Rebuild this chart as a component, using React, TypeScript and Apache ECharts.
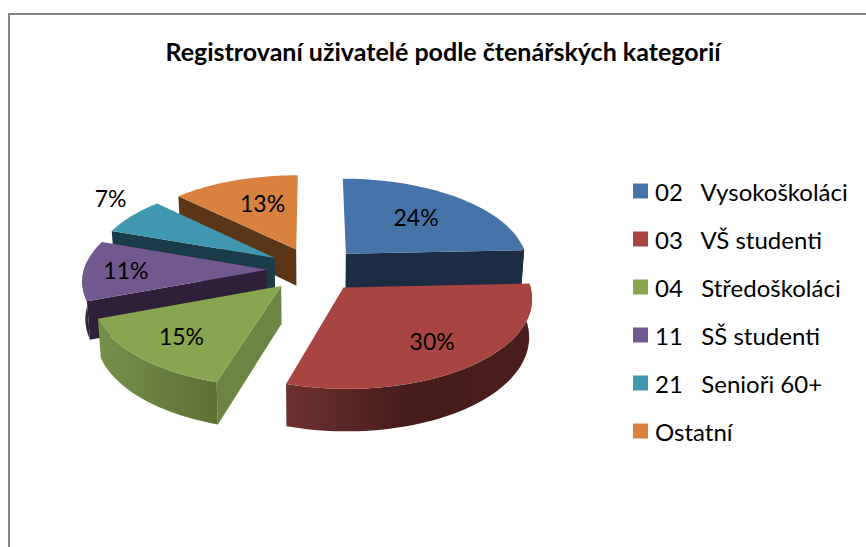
import React, { useEffect, useRef } from "react";
import * as echarts from "echarts";

const TITLE = "Registrovaní uživatelé podle čtenářských kategorií";
const CATEGORIES = ["02   Vysokoškoláci", "03   VŠ studenti", "04   Středoškoláci", "11   SŠ studenti", "21   Senioři 60+", "Ostatní"];
const SHARES = [24.3, 30.4, 14.6, 11.1, 6.9, 12.7];

const FONT = "Lato";
const TOP_COLORS = ["#4674a8", "#a84543", "#88a54f", "#71588f", "#4197af", "#d98240"];
const RADIAL_COLORS = ["#1b2c43", "#4a1d1b", "#6b8543", "#2e2038", "#1a3c48", "#5b3517"];
const RIM_STOPS = [
  ["#1b2c43", "#1b2c43"],
  ["#6e3130", "#451c1a", "#4a1e1c"],
  ["#76904a", "#5d7034"],
  ["#3a2a4a", "#2e2038"],
  ["#1a3c48", "#1a3c48"],
  ["#5b3517", "#5b3517"],
];
const DRAW_ORDER = [0, 5, 4, 3, 2, 1];
// label placement: fraction of the radius and angular shift, per slice
const LABEL_FRACTION = [0.63, 0.71, 0.72, 0.77, 1.27, 0.64];
const LABEL_SHIFT = [-2, 0, 0, 0, 6, 4];

const CX = 314, CY = 269.5, EXPLODE = 47, RADIUS = 183, TILT = 0.472, DIST = 1700, DEPTH = 37, SHRINK = 0.00036;
const rad = (d: number) => (d * Math.PI) / 180;

const total = SHARES.reduce((a, b) => a + b, 0);
const starts: number[] = [];
SHARES.reduce((acc, v, i) => {
  starts[i] = acc;
  return acc + (v / total) * 360;
}, 0);

const project = (X: number, Y: number, drop: number) => {
  const s = DIST / (DIST + Y);
  return [CX + X * s * (1 - drop * SHRINK), CY - Y * TILT * s + drop * s];
};

const makeRender = (i: number) => (_params: any, api: any) => {
  const share = api.value(0) as number;
  const a0 = starts[i];
  const a1 = a0 + (share / total) * 360;
  const mid = rad((a0 + a1) / 2);
  const ex = EXPLODE * Math.sin(mid);
  const ey = EXPLODE * Math.cos(mid);
  const rim = (deg: number, drop: number, r = RADIUS) =>
    project(ex + r * Math.sin(rad(deg)), ey + r * Math.cos(rad(deg)), drop);
  const arc = (from: number, to: number, drop: number) => {
    const pts: number[][] = [];
    const n = Math.max(2, Math.ceil((to - from) / 2));
    for (let k = 0; k <= n; k++) pts.push(rim(from + ((to - from) * k) / n, drop));
    return pts;
  };
  const children: any[] = [];
  const radial = (deg: number) => ({
    type: "polygon",
    shape: { points: [project(ex, ey, 0), rim(deg, 0), rim(deg, DEPTH), project(ex, ey, DEPTH)] },
    style: { fill: RADIAL_COLORS[i] },
  });
  if (Math.sin(rad(a0)) < -0.001) children.push(radial(a0));
  if (Math.sin(rad(a1)) > 0.001) children.push(radial(a1));
  const from = Math.max(a0, 84);
  const to = Math.min(a1, 276);
  if (to > from) {
    const stops = RIM_STOPS[i];
    children.push({
      type: "polygon",
      shape: { points: [...arc(from, to, 0), ...arc(from, to, DEPTH).reverse()] },
      style: {
        fill: new echarts.graphic.LinearGradient(
          0, 0, 1, 0,
          stops.map((color, k) => ({ offset: k / (stops.length - 1), color }))
        ),
      },
    });
  }
  children.push({
    type: "polygon",
    shape: { points: [project(ex, ey, 0), ...arc(a0, a1, 0)] },
    style: { fill: TOP_COLORS[i] },
  });
  const la = mid + rad(LABEL_SHIFT[i]);
  const lr = RADIUS * LABEL_FRACTION[i];
  const lp = project(ex + lr * Math.sin(la), ey + lr * Math.cos(la), 0);
  children.push({
    type: "text",
    x: lp[0],
    y: lp[1],
    style: {
      text: `${Math.round((share / total) * 100)}%`,
      fill: "#000000",
      font: `23px ${FONT}`,
      align: "center",
      verticalAlign: "middle",
    },
  });
  return { type: "group", children };
};

export default function App() {
  const ref = useRef<HTMLDivElement>(null);
  useEffect(() => {
    const chart = echarts.init(ref.current!, undefined, { renderer: "svg" });
    chart.setOption({
      animation: false,
      backgroundColor: "#ffffff",
      title: {
        text: TITLE,
        left: 438,
        top: 33,
        textAlign: "center",
        textStyle: { fontFamily: FONT, fontWeight: "bold", fontSize: 25, color: "#000000" },
      },
      legend: {
        orient: "vertical",
        left: 628,
        top: 174,
        itemWidth: 15,
        itemHeight: 15,
        itemGap: 24,
        selectedMode: false,
        icon: "rect",
        data: CATEGORIES,
        textStyle: { fontFamily: FONT, fontSize: 24, color: "#000000", padding: [0, 0, 0, 2] },
      },
      graphic: [
        {
          type: "polyline",
          shape: { points: [[9, 547], [9, 14], [866, 14]] },
          style: { stroke: "#868686", lineWidth: 2, fill: "none" },
          silent: true,
        },
      ],
      series: DRAW_ORDER.map((i) => ({
        type: "custom",
        name: CATEGORIES[i],
        coordinateSystem: "none",
        itemStyle: { color: TOP_COLORS[i] },
        renderItem: makeRender(i),
        data: [[SHARES[i]]],
      })),
    });
    return () => chart.dispose();
  }, []);
  return <div ref={ref} style={{ position: "absolute", left: 0, top: 0, width: 866, height: 547 }} />;
}
